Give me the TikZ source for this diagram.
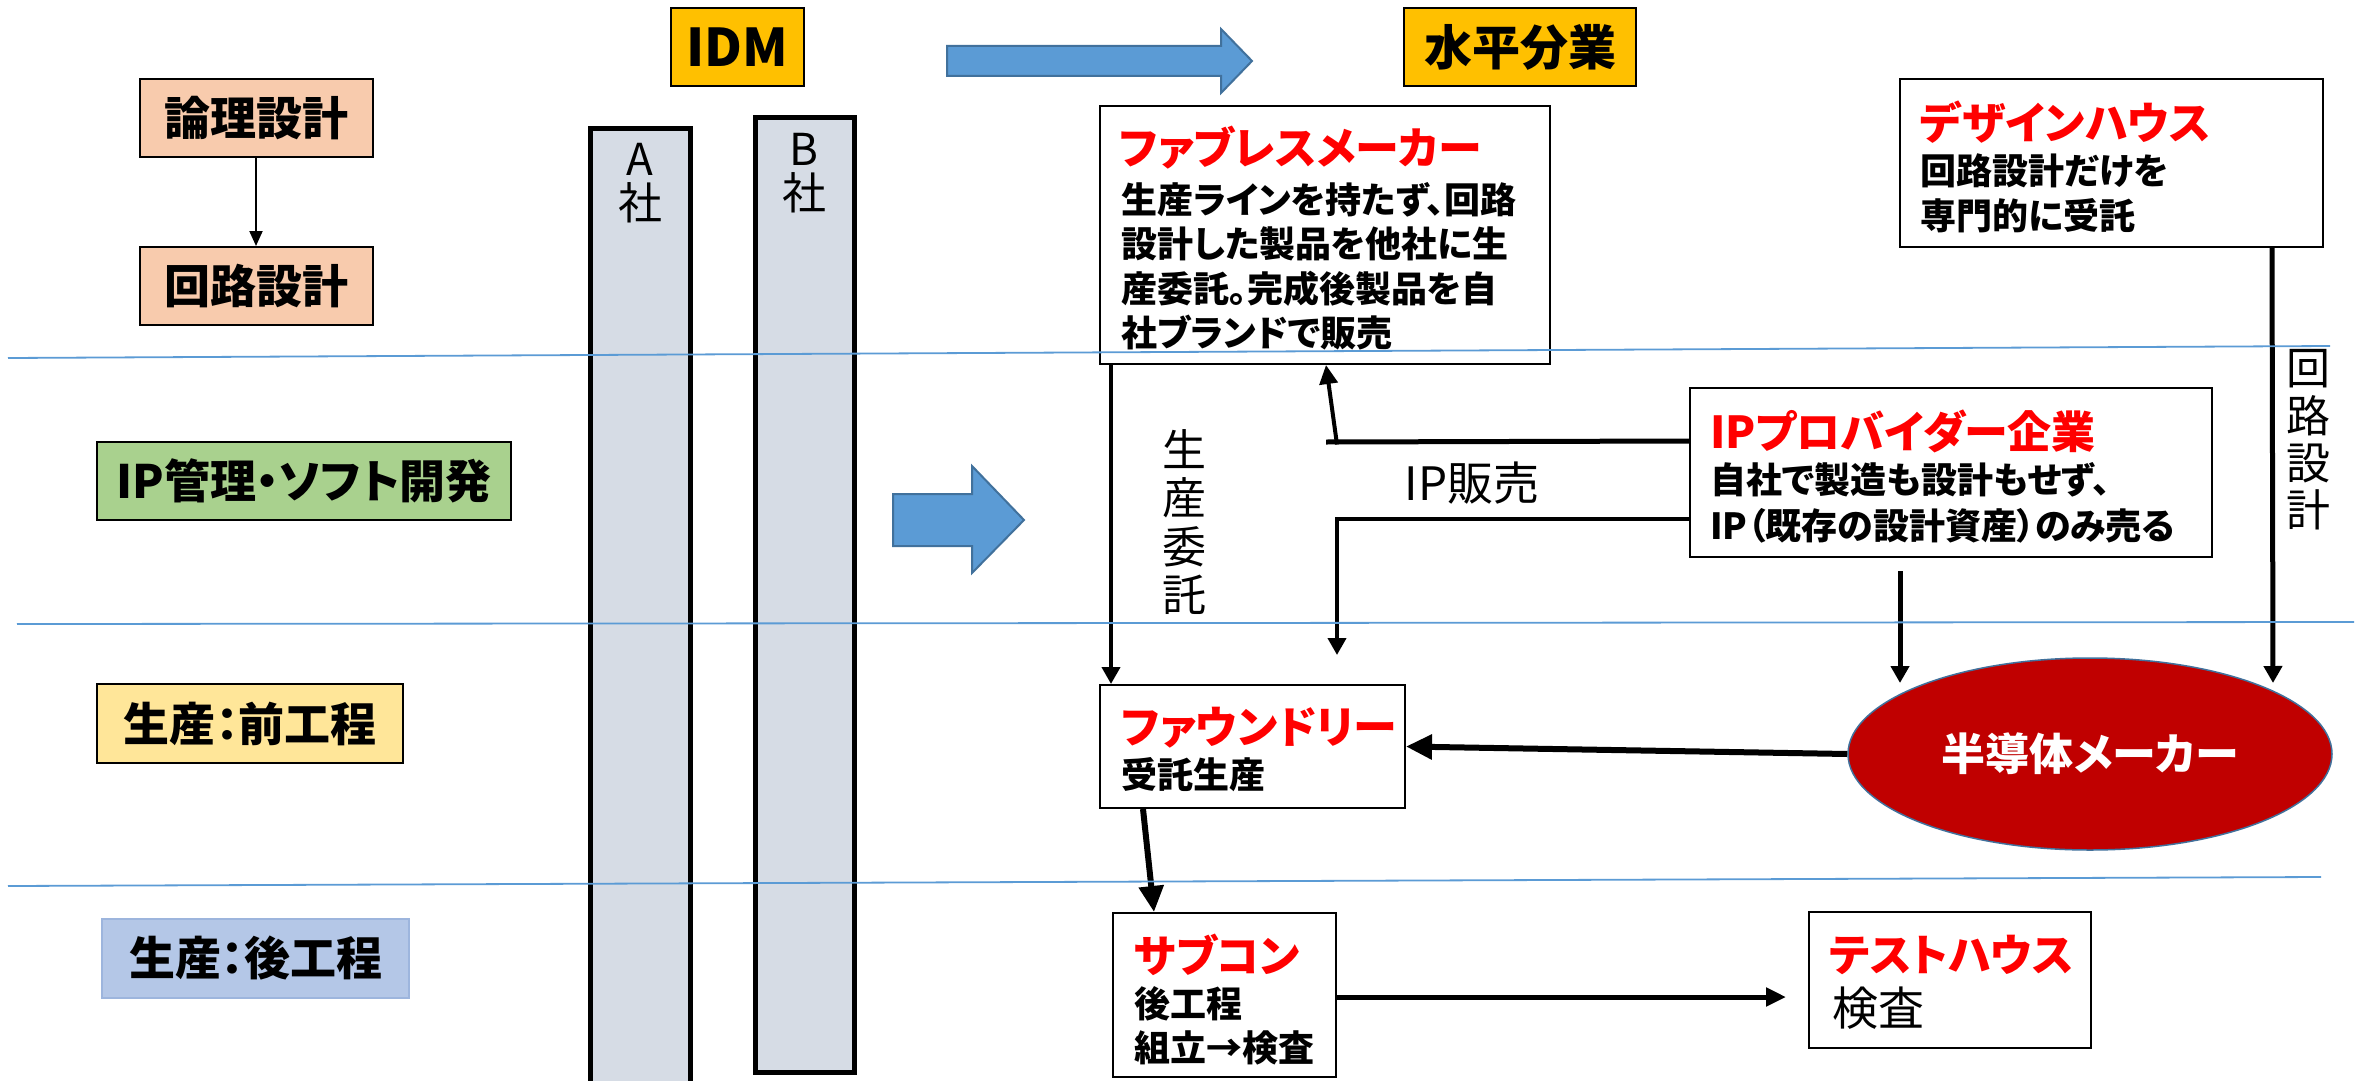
\documentclass[tikz,border=0pt]{standalone}
\usepackage{fontspec}
\setmainfont{Noto Sans CJK JP}[RawFeature=+palt]
\usetikzlibrary{arrows.meta,calc,shapes.geometric}
\newcommand\fsz[2]{\fontsize{#1}{#2}\selectfont}
\definecolor{peach}{HTML}{F8CBAD}
\definecolor{lgreen}{HTML}{A9D18E}
\definecolor{lyellow}{HTML}{FFE699}
\definecolor{lblue}{HTML}{B4C7E7}
\definecolor{lblueb}{HTML}{9DB5DD}
\definecolor{gold}{HTML}{FFC000}
\definecolor{barfill}{HTML}{D6DCE5}
\definecolor{arrblue}{HTML}{5B9BD5}
\definecolor{arrbord}{HTML}{41719C}
\definecolor{darkred}{HTML}{C00000}
\definecolor{sepblue}{HTML}{5B9BD5}
\definecolor{titlered}{HTML}{FF0000}
\begin{document}
\begin{tikzpicture}[x=1pt,y=-1pt,
  lbl/.style={draw, line width=2pt, inner sep=0pt, font=\bfseries\fsz{46}{50}},
  cbox/.style={draw, line width=2pt, fill=white, inner sep=0pt},
  ttl/.style={anchor=west, inner sep=0pt, text=titlered, font=\bfseries\fsz{44}{50}},
  bodytxt/.style={anchor=north west, inner sep=0pt, align=left, font=\bfseries\fsz{36}{44.5}},
  vtxt/.style={inner sep=0pt, align=center},
  colbar/.style={draw, line width=5pt, fill=barfill, inner sep=0pt},
  blarrow/.style={fill=arrblue, draw=arrbord, line width=2pt, line join=miter},
  sepline/.style={draw=sepblue, line width=1.8pt},
  thinarr/.style={line width=2pt, -{Triangle[length=15pt,width=13pt]}},
  medarr/.style={line width=4pt, -{Triangle[length=17pt,width=18pt]}},
  bigarr/.style={line width=6pt, -{Triangle[length=26pt,width=24pt]}}
]
\useasboundingbox (0,0) rectangle (2361,1081);
\fill[white] (0,0) rectangle (2361,1081);

% company bars
\node[colbar, minimum width=100pt, minimum height=962pt] (barA) at (640,609) {};
\node[colbar, minimum width=99pt, minimum height=955pt] (barB) at (804.5,594.5) {};
\node[vtxt, anchor=north, font=\fsz{44}{44}] (txtA) at (640,143) {A\\社};
\node[vtxt, anchor=north, font=\fsz{44}{44}] (txtB) at (804,133) {B\\社};

% big blue arrows
\draw[blarrow] (947,46) -- (1221,46) -- (1221,29) -- (1252,61) -- (1221,93) -- (1221,76) -- (947,76) -- cycle;
\draw[blarrow] (893,494) -- (972,494) -- (972,466) -- (1024,520) -- (972,573) -- (972,546) -- (893,546) -- cycle;

% header labels
\node[lbl, fill=gold, minimum width=133pt, minimum height=78pt, font=\bfseries\fsz{52}{56}] (idm) at (737,47) {IDM};
\node[lbl, fill=gold, minimum width=232pt, minimum height=78pt, font=\bfseries\fsz{48}{52}] (hor) at (1520,47) {水平分業};

% left stage labels
\node[lbl, fill=peach, minimum width=233pt, minimum height=78pt] (logic) at (256,118) {論理設計};
\node[lbl, fill=peach, minimum width=233pt, minimum height=78pt] (circ) at (256,286) {回路設計};
\node[lbl, fill=lgreen, minimum width=414pt, minimum height=78pt] (ipm) at (304,481) {IP管理・ソフト開発};
\node[lbl, fill=lyellow, minimum width=306pt, minimum height=79pt] (front) at (250,723.5) {生産：前工程};
\node[lbl, draw=lblueb, fill=lblue, minimum width=307pt, minimum height=79pt] (back) at (255.5,958.5) {生産：後工程};

% right boxes
\node[cbox, minimum width=450pt, minimum height=258pt] (fab) at (1325,235) {};
\node[ttl] (fabt) at (1119,148) {ファブレスメーカー};
\node[bodytxt] (fabb) at (1121,182) {生産ラインを持たず、回路\\設計した製品を他社に生\\産委託。完成後製品を自\\社ブランドで販売};

\node[cbox, minimum width=423pt, minimum height=168pt] (des) at (2111.5,163) {};
\node[ttl] (dest) at (1920,122) {デザインハウス};
\node[bodytxt, font=\bfseries\fsz{36}{45}] (desb) at (1920,153) {回路設計だけを\\専門的に受託};

\node[cbox, minimum width=522pt, minimum height=169pt] (ipp) at (1951,472.5) {};
\node[ttl] (ippt) at (1710,431) {IPプロバイダー企業};
\node[bodytxt, font=\bfseries\fsz{36}{46}] (ippb) at (1710,462) {自社で製造も設計もせず、\\IP（既存の設計資産）のみ売る};

\node[cbox, minimum width=305pt, minimum height=123pt] (fdy) at (1252.5,746.5) {};
\node[ttl] (fdyt) at (1121,728) {ファウンドリー};
\node[bodytxt, anchor=west] (fdyb) at (1121,775) {受託生産};

\node[cbox, minimum width=223pt, minimum height=164pt] (sub) at (1224.5,995) {};
\node[ttl] (subt) at (1134,955) {サブコン};
\node[bodytxt, font=\bfseries\fsz{36}{44}] (subb) at (1134,986) {後工程\\組立→検査};

\node[cbox, minimum width=282pt, minimum height=136pt] (tst) at (1950,980) {};
\node[ttl] (tstt) at (1829,955) {テストハウス};
\node[anchor=west, inner sep=0pt, font=\fsz{46}{50}] (tstb) at (1832,1008) {検査};

\node[ellipse, draw=arrbord, line width=1.5pt, fill=darkred, minimum width=484pt, minimum height=192pt, inner sep=0pt, text=white, font=\bfseries\fsz{44}{50}] (semi) at (2090,754) {半導体メーカー};

% connector labels
\node[vtxt, font=\fsz{44}{48.5}] (lbl1) at (1184,522) {生\\産\\委\\託};
\node[inner sep=0pt, font=\fsz{46}{50}] (lbl2) at (1472,483) {IP販売};
\node[vtxt, font=\fsz{44}{47.3}] (lbl3) at (2308,440) {回\\路\\設\\計};

% free ends
\coordinate (ipsellA) at ($(ipp.north west)+(0,54)$);
\coordinate (ipsellB) at ($(ipp.north west)+(0,132)$);
\coordinate (over1) at (1326,442);
\coordinate (knee1) at (1337,442);
\coordinate (tip1) at (1337,655);
\coordinate (ipdS) at (1900,571);
\coordinate (ipdE) at (1900,683);
\coordinate (desE) at (2273,683);
\coordinate (tstE) at (1786,997);

% connectors
\draw[thinarr] (logic.south) -- (circ.north);
\draw[medarr] ($(fab.south west)+(12,0)$) -- ($(fdy.north west)+(12,0)$);
\draw[line width=5pt] (ipsellA) -- (over1);
\draw[line width=4pt, -{Triangle[length=19pt,width=18pt]}] ($(knee1)+(0,2.5)$) -- ($(fab.south west)+(227,0)$);
\draw[medarr] (ipsellB) -| (tip1);
\draw[medarr, line width=5pt] (ipdS) -- (ipdE);
\draw[medarr, line width=5pt] ($(des.south west)+(373,0)$) -- (desE);
\draw[bigarr] (semi.west) -- (fdy.east);
\draw[bigarr] ($(fdy.south west)+(44,0)$) -- ($(sub.north west)+(42,0)$);
\draw[line width=5pt, -{Triangle[length=20pt,width=18pt]}] (sub.east |- tstE) -- (tstE);

% separator lines
\draw[sepline] (8,358) -- (2330,346);
\draw[sepline] (17,624) -- (2354,622);
\draw[sepline] (8,886) -- (2321,877);
\end{tikzpicture}
\end{document}
